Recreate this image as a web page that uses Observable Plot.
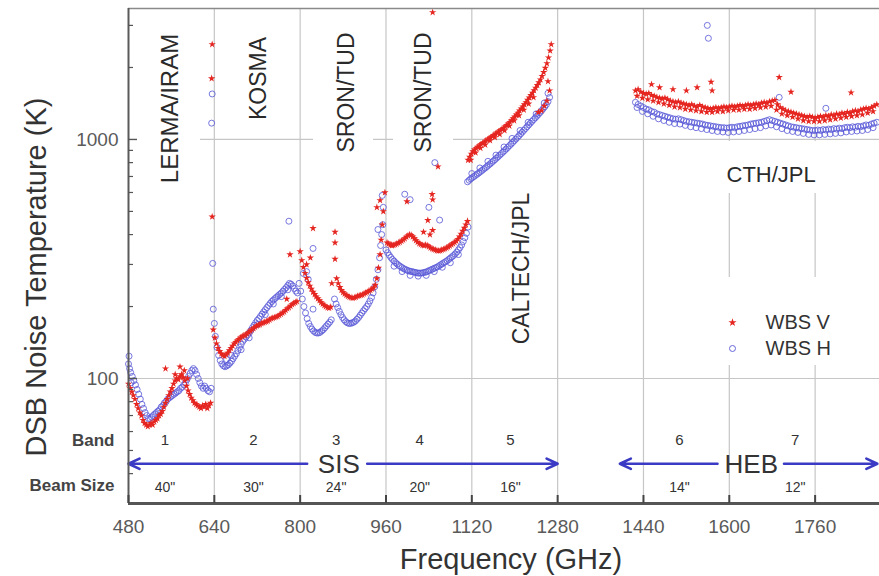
<!DOCTYPE html>
<html><head><meta charset="utf-8">
<script src="https://cdn.jsdelivr.net/npm/d3@7"></script>
<script src="https://cdn.jsdelivr.net/npm/@observablehq/plot@0.6"></script>
<style>
html,body{margin:0;padding:0;background:#fff;}
#chart{position:relative;width:879px;height:576px;overflow:hidden;}
</style></head><body><div id="chart"></div>
<script>
// ---------- data (frequency GHz, DSB noise temperature K) ----------
const wbsV = [
// band 1
[480,95],[483,91],[486,88],[489,85],[492,82],[495,78],[498,75],[501,72],[504,70],[507,67],[510,65],[513,64],[516,63],[519,64],[522,65],[525,64],[528,66],[531,67],[534,68],[537,70],[540,71],[543,73],[546,76],[549,79],[552,82],[555,85],[558,88],[561,91],[564,95],[567,98],[570,100],[573,99],[576,102],[579,104],[582,101],[585,98],[588,93],[591,89],[594,86],[597,83],[600,81],[603,79],[606,78],[609,77],[612,76],[615,75],[618,77],[621,76],[624,78],[627,75],[630,77],[633,79],
[549,110],[576,112],[584,108],[567,104],[590,100],
[636,2500],[635,1800],[636,475],
// band 2
[638,160],[641,148],[644,140],[647,134],[650,130],[653,127],[656,125],[659,124],[662,126],[665,128],[668,131],[671,134],[674,137],[677,140],[680,142],[683,144],[686,146],[689,148],[692,150],[695,151],[698,152],[701,154],[704,156],[707,158],[710,160],[713,162],[716,164],[719,166],[722,167],[725,168],[728,170],[731,171],[734,172],[737,173],[740,174],[743,176],[746,178],[749,179],[752,180],[755,181],[758,182],[761,184],[764,186],[767,188],[770,190],[773,193],[776,196],[779,198],[782,201],[785,204],[788,206],[791,208],[794,210],
[781,330],[775,215],
// band 3
[800,340],[803,312],[806,292],[809,276],[812,263],[815,252],[818,244],[821,237],[824,230],[827,225],[830,220],[833,216],[836,212],[839,208],[842,205],[845,202],[848,200],[851,198],[854,197],[857,199],
[824,425],[819,320],[812,300],[865,410],[865,370],[865,316],[859,250],
[868,262],[871,250],[874,241],[877,234],[880,229],[883,226],[886,223],[889,221],[892,219],[895,218],[898,217],[901,218],[904,219],[907,221],[910,222],[913,223],[916,224],[919,226],[922,228],[925,230],[928,232],[931,234],[934,237],[937,240],[940,246],[943,262],[946,290],[949,330],[951,380],[953,440],[955,500],
[949,556],[971,362],[943,520],[958,600],
// band 4
[962,370],[965,366],[968,362],[971,360],[974,361],[977,363],[980,366],[983,369],[986,372],[989,376],[992,380],[995,385],[998,391],[1001,396],[1004,400],[1007,398],[1010,392],[1013,385],[1016,378],[1019,372],[1022,367],[1025,364],[1028,361],[1031,360],[1034,362],[1037,360],[1040,356],[1043,352],[1046,349],[1049,347],[1052,345],[1055,343],[1058,342],[1061,343],[1064,345],[1067,347],[1070,349],[1073,352],[1076,355],[1079,359],[1082,363],[1085,367],[1088,371],[1091,376],[1094,383],[1097,392],[1100,402],[1103,414],[1106,426],[1109,440],[1112,455],
[999,550],[1046,590],[1047,560],[1038,459],[1047,417],[1047,3400],[1057,770],[1042,400],[1030,410],
// band 5
[1113,820],[1116,845],[1119,870],[1122,890],[1125,905],[1128,918],[1131,930],[1134,942],[1137,953],[1140,964],[1143,975],[1146,986],[1149,997],[1152,1008],[1155,1019],[1158,1030],[1161,1042],[1164,1054],[1167,1066],[1170,1078],[1173,1090],[1176,1102],[1179,1115],[1182,1130],[1185,1146],[1188,1163],[1191,1182],[1194,1202],[1197,1223],[1200,1245],[1203,1268],[1206,1292],[1209,1318],[1212,1345],[1215,1372],[1218,1400],[1221,1430],[1224,1462],[1227,1495],[1230,1530],[1233,1566],[1236,1604],[1239,1644],[1242,1686],[1245,1730],[1248,1780],[1251,1840],[1254,1910],[1257,1990],[1260,2080],[1263,2200],[1266,2350],[1268,2500],
[1118,820],[1127,880],[1136,920],[1145,950],[1154,990],[1163,1020],[1172,1050],[1181,1090],[1190,1140],[1199,1200],[1208,1260],[1217,1330],[1226,1410],[1235,1500],[1244,1300],[1250,1320],[1255,1380],[1260,1450],[1265,1600],[1262,1750],
// bands 6-7 (HEB)
[1425,1600],[1430,1620],[1435,1580],[1440,1560],[1445,1550],[1450,1560],[1455,1530],[1460,1520],[1465,1500],[1470,1490],[1475,1480],[1480,1490],[1485,1470],[1490,1450],[1495,1440],[1500,1430],[1505,1440],[1510,1420],[1515,1410],[1520,1400],[1525,1390],[1530,1400],[1535,1380],[1540,1370],[1545,1390],[1550,1370],[1555,1360],[1560,1350],[1565,1340],[1570,1350],[1575,1360],[1580,1350],[1585,1360],[1590,1370],[1595,1360],[1600,1370],[1605,1380],[1610,1370],[1615,1380],[1620,1390],[1625,1380],[1630,1390],[1635,1400],[1640,1390],[1645,1400],[1650,1410],[1655,1400],[1660,1420],[1665,1430],[1670,1420],[1675,1440],[1680,1450],[1685,1460],[1690,1400],[1695,1360],[1700,1340],[1705,1320],[1710,1310],[1715,1300],[1720,1290],[1725,1280],[1730,1270],[1735,1260],[1740,1250],[1745,1240],[1750,1250],[1755,1240],[1760,1230],[1765,1240],[1770,1250],[1775,1240],[1780,1260],[1785,1250],[1790,1270],[1795,1260],[1800,1280],[1805,1270],[1810,1290],[1815,1280],[1820,1300],[1825,1290],[1830,1310],[1835,1320],[1840,1310],[1845,1330],[1850,1340],[1855,1350],[1860,1340],[1865,1360],[1870,1380],[1875,1400],
[1428,1520],[1438,1490],[1448,1470],[1458,1450],[1468,1430],[1478,1410],[1488,1390],[1498,1370],[1508,1360],[1518,1340],[1528,1330],[1538,1320],[1548,1310],[1558,1300],[1568,1300],[1578,1310],[1588,1310],[1598,1320],[1608,1330],[1618,1330],[1628,1340],[1638,1340],[1648,1350],[1658,1360],[1668,1370],[1678,1380],[1688,1330],[1698,1280],[1708,1260],[1718,1240],[1728,1220],[1738,1200],[1748,1190],[1758,1190],[1768,1190],[1778,1200],[1788,1210],[1798,1220],[1808,1230],[1818,1240],[1828,1250],[1838,1260],[1848,1270],[1858,1290],[1868,1310],
[1455,1700],[1470,1650],[1495,1620],[1520,1600],[1540,1650],[1566,1740],[1568,1600],[1693,1820],[1715,1580],[1827,1570]
];

const wbsH = [
// band 1
[480,115],[481,124],[482,110],[484,106],[485,96],[487,102],[490,98],[493,94],[496,90],[499,86],[502,82],[505,78],[508,75],[511,72],[514,70],[517,68],[520,68],[523,69],[526,70],[529,71],[532,72],[535,73],[538,74],[541,76],[544,77],[547,79],[550,80],[553,82],[556,83],[559,84],[562,85],[565,86],[568,87],[571,88],[574,89],[577,91],[580,92],[583,94],[586,96],[589,99],[592,102],[595,105],[598,108],[601,110],[604,108],[607,104],[610,100],[613,96],[616,93],[619,91],[622,93],[625,91],[628,89],[631,88],[634,91],
[636,1550],[635,1170],[637,303],[638,195],
// band 2
[640,170],[642,150],[645,135],[648,125],[651,119],[654,115],[657,113],[660,112],[663,113],[666,114],[669,116],[672,118],[675,121],[678,124],[681,127],[684,131],[687,135],[690,139],[693,143],[696,146],[699,149],[702,152],[705,155],[708,159],[711,163],[714,167],[717,171],[720,175],[723,178],[726,182],[729,186],[732,190],[735,194],[738,198],[741,202],[744,206],[747,210],[750,213],[753,216],[756,219],[759,222],[762,225],[765,228],[768,232],[771,236],[774,240],[777,245],[780,250],[783,248],[786,244],[789,238],[792,232],[795,228],
[663,120],[672,125],[690,132],[705,148],[720,168],[735,185],[750,205],[765,220],[777,235],[779,455],
// band 3
[798,250],[801,232],[804,215],[807,200],[810,188],[813,178],[816,170],[819,165],[822,161],[825,158],[828,156],[831,155],[834,155],[837,156],[840,158],[843,160],[846,163],[849,166],[852,169],[855,172],[858,176],
[824,195],[812,280],[806,275],[815,260],[824,350],
[864,215],[867,205],[870,198],[873,191],[876,185],[879,180],[882,176],[885,173],[888,171],[891,170],[894,170],[897,171],[900,172],[903,174],[906,177],[909,180],[912,184],[915,188],[918,192],[921,196],[924,200],[927,205],[930,211],[933,218],[936,228],[939,242],[942,260],[945,285],[948,320],[950,360],[952,400],[954,440],
[953,583],[945,420],[955,520],
// band 4
[960,345],[963,336],[966,328],[969,321],[972,315],[975,310],[978,305],[981,301],[984,297],[987,294],[990,291],[993,288],[996,286],[999,284],[1002,282],[1005,281],[1008,280],[1011,279],[1014,278],[1017,277],[1020,276],[1023,276],[1026,276],[1029,277],[1032,278],[1035,279],[1038,281],[1041,283],[1044,285],[1047,287],[1050,289],[1053,291],[1056,293],[1059,296],[1062,299],[1065,302],[1068,305],[1071,308],[1074,311],[1077,315],[1080,319],[1083,323],[1086,327],[1089,332],[1092,338],[1095,345],[1098,353],[1101,362],[1104,374],[1107,388],[1110,405],[1113,430],
[975,295],[990,280],[1005,270],[1020,268],[1035,270],[1050,280],[1065,292],[1080,305],[1095,330],
[995,590],[1051,800],[1060,460],[1040,520],[1005,560],
// band 5
[1112,665],[1115,675],[1118,684],[1121,692],[1124,700],[1127,708],[1130,716],[1133,724],[1136,733],[1139,742],[1142,751],[1145,760],[1148,770],[1151,780],[1154,790],[1157,801],[1160,812],[1163,823],[1166,835],[1169,847],[1172,859],[1175,872],[1178,885],[1181,898],[1184,912],[1187,926],[1190,941],[1193,956],[1196,971],[1199,987],[1202,1003],[1205,1020],[1208,1037],[1211,1055],[1214,1073],[1217,1092],[1220,1111],[1223,1130],[1226,1150],[1229,1170],[1232,1190],[1235,1210],[1238,1230],[1241,1250],[1244,1272],[1247,1295],[1250,1320],[1253,1345],[1256,1370],[1259,1400],[1262,1440],[1265,1500],
[1120,720],[1135,760],[1150,810],[1165,860],[1180,930],[1195,1010],[1210,1090],[1225,1180],[1240,1280],[1255,1420],[1262,1560],
// bands 6-7 (HEB)
[1425,1430],[1430,1400],[1435,1380],[1440,1360],[1445,1340],[1450,1330],[1455,1310],[1460,1300],[1465,1280],[1470,1270],[1475,1260],[1480,1250],[1485,1240],[1490,1230],[1495,1220],[1500,1215],[1505,1220],[1510,1210],[1515,1200],[1520,1190],[1525,1185],[1530,1180],[1535,1175],[1540,1170],[1545,1165],[1550,1160],[1555,1150],[1560,1145],[1565,1140],[1570,1135],[1575,1130],[1580,1125],[1585,1120],[1590,1120],[1595,1115],[1600,1120],[1605,1125],[1610,1120],[1615,1130],[1620,1135],[1625,1140],[1630,1145],[1635,1150],[1640,1160],[1645,1165],[1650,1170],[1655,1175],[1660,1180],[1665,1190],[1670,1200],[1675,1210],[1680,1200],[1685,1190],[1690,1180],[1695,1170],[1700,1160],[1705,1150],[1710,1140],[1715,1130],[1720,1125],[1725,1120],[1730,1115],[1735,1110],[1740,1105],[1745,1100],[1750,1095],[1755,1090],[1760,1090],[1765,1095],[1770,1090],[1775,1100],[1780,1095],[1785,1105],[1790,1100],[1795,1110],[1800,1105],[1805,1115],[1810,1110],[1815,1120],[1820,1125],[1825,1120],[1830,1130],[1835,1125],[1840,1135],[1845,1130],[1850,1140],[1855,1150],[1860,1145],[1865,1160],[1870,1170],[1875,1180],
[1428,1360],[1438,1310],[1448,1280],[1458,1250],[1468,1220],[1478,1200],[1488,1180],[1498,1165],[1508,1160],[1518,1145],[1528,1130],[1538,1120],[1548,1110],[1558,1100],[1568,1090],[1578,1080],[1588,1075],[1598,1070],[1608,1075],[1618,1080],[1628,1090],[1638,1100],[1648,1110],[1658,1120],[1668,1140],[1678,1150],[1688,1130],[1698,1110],[1708,1090],[1718,1080],[1728,1070],[1738,1060],[1748,1050],[1758,1045],[1768,1045],[1778,1050],[1788,1055],[1798,1060],[1808,1065],[1818,1075],[1828,1080],[1838,1085],[1848,1090],[1858,1100],[1868,1120],
[1559,3000],[1561,2650],[1693,1500],[1780,1350]
];

const xTicks = [480, 640, 800, 960, 1120, 1280, 1440, 1600, 1760];
const yMajor = [100, 1000];
const yMinor = [40, 50, 60, 70, 80, 90, 200, 300, 400, 500, 600, 700, 800, 900, 2000, 3000];

const bandNumbers = ["1", "2", "3", "4", "5", "6", "7"];
const bandCenters = [548, 713, 867, 1023, 1192, 1507, 1723];
const beamSizes = ['40"', '30"', '24"', '20"', '16"', '14"', '12"'];

const instNames = ["LERMA/IRAM", "KOSMA", "SRON/TUD", "SRON/TUD", "CALTECH/JPL", "CTH/JPL"];
const instFreq = [558, 722, 886, 1031, 1213, 1678];

const mixerNames = ["SIS", "HEB"];
const mixerTextFreq = [872, 1641];
const arrowSegments = [
  {from: 813, to: 480}, {from: 925, to: 1280},
  {from: 1578, to: 1396}, {from: 1702, to: 1876}
];
const arrowLevel = 44;

// ---------- layout ----------
const W = 879, H = 576, mL = 128, mT = 8, mB = 73, mR = 0;
const fw = W - mL - mR, fh = H - mT - mB;
const yDomain = [30, 3530];
const RED = "#e52520", BLUE = "#5858d8", FONT = "'Liberation Sans', Arial, sans-serif";

// white box in pixel coordinates (layout only), via insets on a frame-spanning rect
function whiteBox(l, t, r, b) {
  return Plot.rect([0], {insetLeft: l - mL, insetRight: W - mR - r, insetTop: t - mT, insetBottom: H - mB - b, fill: "white"});
}

const instStyle = [
  {dy: 100, rotate: -90, fs: 24},
  {dy: 70, rotate: -90, fs: 23},
  {dy: 84, rotate: -90, fs: 23},
  {dy: 84, rotate: -90, fs: 23},
  {dy: 260, rotate: -90, fs: 23},
  {dy: 166, rotate: 0, fs: 22}
];
const M = {textAnchor: "middle", lineAnchor: "middle"};

const chart = Plot.plot({
  width: W, height: H,
  marginLeft: mL, marginRight: mR, marginTop: mT, marginBottom: mB,
  style: {fontFamily: FONT, background: "white"},
  x: {domain: [480, 1880], axis: null},
  y: {type: "log", domain: yDomain, axis: null},
  marks: [
    // grid
    Plot.ruleX(xTicks.slice(1), {stroke: "#c6c6c6", strokeWidth: 1.2}),
    Plot.ruleY(yMajor, {stroke: "#c6c6c6", strokeWidth: 1.2}),
    // label boxes (cover grid lines)
    whiteBox(130, 22, 200, 195),
    whiteBox(313, 22, 373, 165),
    whiteBox(393, 22, 453, 165),
    whiteBox(700, 141, 850, 193),
    whiteBox(700, 277, 850, 365),
    // institution labels
    ...instNames.map((n, i) => Plot.text([n], {
      ...M, x: () => instFreq[i], text: d => d, frameAnchor: "top", dy: instStyle[i].dy,
      rotate: instStyle[i].rotate, fontSize: instStyle[i].fs, fill: "#2a2a2a"
    })),
    // mixer arrows
    Plot.arrow(arrowSegments, {x1: "from", x2: "to", y1: () => arrowLevel, y2: () => arrowLevel,
      stroke: "#3a3ac4", strokeWidth: 2.6, headLength: 7, headAngle: 50}),
    Plot.text(mixerNames, {...M, x: (d, i) => mixerTextFreq[i], y: () => arrowLevel, text: d => d,
      fontSize: 26, fill: "#333", dy: 1}),
    // band numbers and beam sizes
    Plot.text(bandNumbers, {...M, x: (d, i) => bandCenters[i], text: d => d, frameAnchor: "bottom", dy: -63, fontSize: 15, fill: "#333"}),
    Plot.text(beamSizes, {...M, x: (d, i) => bandCenters[i], text: d => d, frameAnchor: "bottom", dy: -16, fontSize: 14, fill: "#333"}),
    Plot.text(["Band"], {frameAnchor: "bottom-left", dx: -14, dy: -63, textAnchor: "end", lineAnchor: "middle", fontSize: 17, fontWeight: "bold", fill: "#444"}),
    Plot.text(["Beam Size"], {frameAnchor: "bottom-left", dx: -14, dy: -18, textAnchor: "end", lineAnchor: "middle", fontSize: 17, fontWeight: "bold", fill: "#444"}),
    // data
    Plot.dot(wbsH, {x: d => d[0], y: d => d[1], r: 3, stroke: BLUE, strokeWidth: 0.9, fill: "none", strokeOpacity: 0.9}),
    Plot.dot(wbsV, {x: d => d[0], y: d => d[1], r: 2.3, symbol: "star", fill: RED, stroke: "none"}),
    // axes
    Plot.ruleY([yDomain[1]], {stroke: "#8a8a8a", strokeWidth: 1.6}),
    Plot.ruleX([480], {stroke: "#5a5a5a", strokeWidth: 2}),
    Plot.ruleY([yDomain[0]], {stroke: "#555", strokeWidth: 3}),
    Plot.tickY(yMinor, {y: d => d, insetRight: fw - 5, stroke: "#555", strokeWidth: 1.2}),
    Plot.tickY(yMajor, {y: d => d, insetRight: fw - 9, stroke: "#555", strokeWidth: 1.4}),
    Plot.tickX(xTicks, {x: d => d, insetTop: fh - 8, stroke: "#444", strokeWidth: 2}),
    Plot.text(xTicks, {...M, x: d => d, text: d => String(d), frameAnchor: "bottom", dy: 23, fontSize: 19, fill: "#5a5a5a"}),
    Plot.text(yMajor, {y: d => d, text: d => String(d), frameAnchor: "left", dx: -10, textAnchor: "end", lineAnchor: "middle", fontSize: 19, fill: "#5a5a5a"}),
    // axis titles
    Plot.text(["Frequency (GHz)"], {...M, frameAnchor: "bottom", dx: 7, dy: 56, fontSize: 29, fill: "#333"}),
    Plot.text(["DSB Noise Temperature (K)"], {...M, frameAnchor: "left", dx: -92, dy: 21, rotate: -90, fontSize: 29, fill: "#333"}),
    // legend
    Plot.dot([0], {frameAnchor: "top-left", dx: 732 - mL, dy: 322 - mT, r: 2.6, symbol: "star", fill: RED}),
    Plot.dot([0], {frameAnchor: "top-left", dx: 732 - mL, dy: 348 - mT, r: 3, stroke: BLUE, fill: "none", strokeWidth: 0.9}),
    Plot.text(["WBS V"], {frameAnchor: "top-left", dx: 765 - mL, dy: 322 - mT, textAnchor: "start", lineAnchor: "middle", fontSize: 20, fill: "#333"}),
    Plot.text(["WBS H"], {frameAnchor: "top-left", dx: 765 - mL, dy: 348 - mT, textAnchor: "start", lineAnchor: "middle", fontSize: 20, fill: "#333"})
  ]
});
document.getElementById("chart").appendChild(chart);
</script>
</body></html>
